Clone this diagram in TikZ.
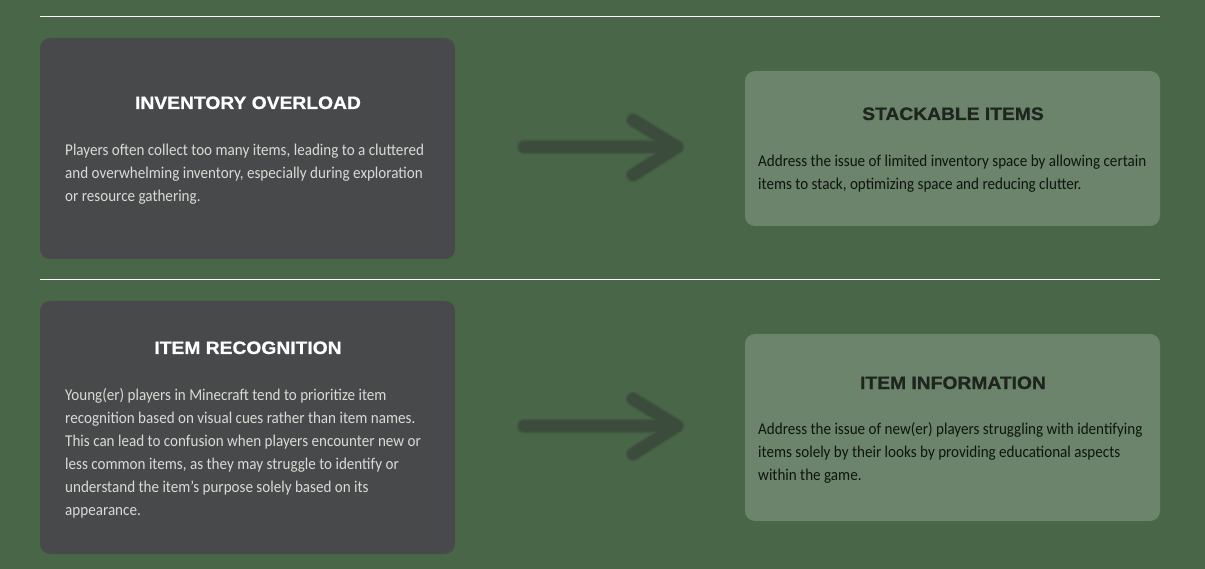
\documentclass[tikz,border=0pt]{standalone}
\usepackage{fontspec}
\usetikzlibrary{calc}
\setmainfont{Carlito}[FakeStretch=0.915]
\newfontfamily\titlefont{Liberation Sans}[FakeStretch=1.07, BoldFeatures={FakeBold=0.8}]
\definecolor{bggreen}{RGB}{74,102,72}
\definecolor{darkcard}{RGB}{72,73,75}
\definecolor{lightcard}{RGB}{107,132,107}
\definecolor{arrowcol}{RGB}{60,76,60}
\definecolor{bodylight}{RGB}{218,218,214}
\definecolor{bodydark}{RGB}{14,20,14}
\definecolor{titledark}{RGB}{30,36,30}
\tikzset{
  card/.style={rounded corners=10pt, inner sep=0pt, outer sep=0pt},
  darkbox/.style={card, fill=darkcard},
  lightbox/.style={card, fill=lightcard},
  ctitle/.style={font=\titlefont\bfseries\fontsize{18}{22}\selectfont, inner sep=0pt, anchor=base},
  cbody/.style={font=\fontsize{16.5}{23}\selectfont, inner sep=0pt, anchor=base west},
  rule/.style={draw=white, line width=1pt},
  fuzzy/.style={line cap=round, line join=round},
}
\newcommand{\bodylines}[1]{\vtop{\baselineskip=23pt\lineskiplimit=-20pt#1}}
\begin{document}
\begin{tikzpicture}[x=1pt,y=-1pt]
\fill[bggreen] (0,0) rectangle (1205,569);
\useasboundingbox (0,0) rectangle (1205,569);
% rules
\coordinate (r1a) at (40,16.5); \coordinate (r1b) at (1160,16.5);
\coordinate (r2a) at (40,279.5); \coordinate (r2b) at (1160,279.5);
\draw[rule] (r1a) -- (r1b);
\draw[rule] (r2a) -- (r2b);
% cards
\fill[darkbox] (40,38) rectangle (455,259);
\fill[darkbox] (40,301) rectangle (455,554);
\fill[lightbox] (745,71) rectangle (1160,226);
\fill[lightbox] (745,334) rectangle (1160,521);
% titles
\node[ctitle, text=white] (t1) at (248,109) {INVENTORY OVERLOAD};
\node[ctitle, text=white] (t2) at (248,354) {ITEM RECOGNITION};
\node[ctitle, text=titledark] (t3) at (953,120) {STACKABLE ITEMS};
\node[ctitle, text=titledark] (t4) at (953,389) {ITEM INFORMATION};
% bodies
\node[cbody, text=bodylight] (b1) at (65,155.7) {\bodylines{\hbox{Players often collect too many items, leading to a cluttered}\hbox{and overwhelming inventory, especially during exploration}\hbox{or resource gathering.}}};
\node[cbody, text=bodylight] (b2) at (65,400) {\bodylines{\hbox{Young(er) players in Minecraft tend to prioritize item}\hbox{recognition based on visual cues rather than item names.}\hbox{This can lead to confusion when players encounter new or}\hbox{less common items, as they may struggle to identify or}\hbox{understand the item's purpose solely based on its}\hbox{appearance.}}};
\node[cbody, text=bodydark] (b3) at (758,166.5) {\bodylines{\hbox{Address the issue of limited inventory space by allowing certain}\hbox{items to stack, optimizing space and reducing clutter.}}};
\node[cbody, text=bodydark] (b4) at (758,434.5) {\bodylines{\hbox{Address the issue of new(er) players struggling with identifying}\hbox{items solely by their looks by providing educational aspects}\hbox{within the game.}}};
% arrows
\coordinate (a1s) at (524,147); \coordinate (a1e) at (677,147);
\coordinate (a2s) at (524,426); \coordinate (a2e) at (677,426);
\foreach \s/\e in {a1s/a1e, a2s/a2e}{
  \foreach \w/\o in {16/0.15, 14/0.35, 12/0.6, 10.5/1}{
    \draw[fuzzy, arrowcol, line width=\w pt, opacity=\o]
      (\s) -- (\e) ($(\e)+(-44,-27)$) -- (\e) -- ($(\e)+(-44,28)$);
  }
}
\end{tikzpicture}
\end{document}
